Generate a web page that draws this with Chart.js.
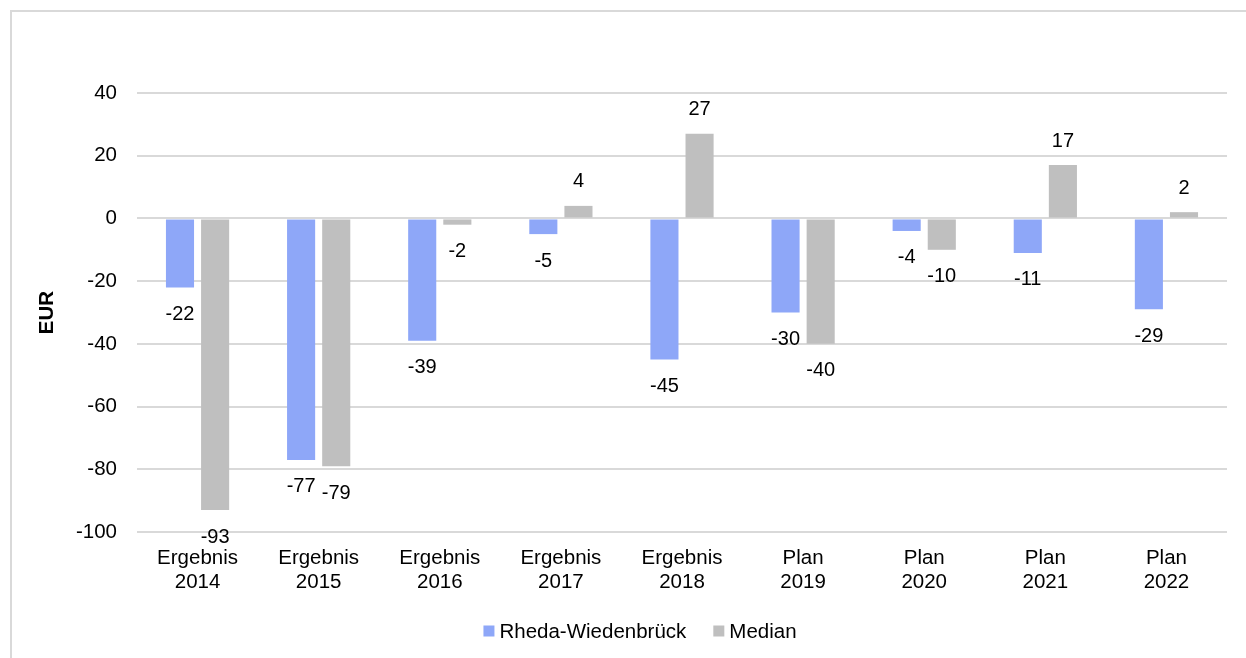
<!DOCTYPE html>
<html><head><meta charset="utf-8">
<script src="https://cdn.jsdelivr.net/npm/chart.js@4.4.1/dist/chart.umd.min.js"></script>
<style>
html,body{margin:0;padding:0;background:#fff;overflow:hidden;width:1246px;height:658px;}
#frame{position:absolute;left:10px;top:10px;width:1250px;height:660px;border:2px solid #d9d9d9;box-sizing:border-box;}
#wrap{position:absolute;left:0;top:0;width:1246px;height:658px;}
</style></head>
<body>
<div id="frame"></div>
<div id="wrap"><canvas id="c" width="1246" height="658"></canvas></div>
<script>
const categories = [["Ergebnis","2014"],["Ergebnis","2015"],["Ergebnis","2016"],["Ergebnis","2017"],["Ergebnis","2018"],["Plan","2019"],["Plan","2020"],["Plan","2021"],["Plan","2022"]];
const rhedaValues = [-22,-77,-39,-5,-45,-30,-4,-11,-29];
const medianValues = [-93,-79,-2,4,27,-40,-10,17,2];
const yTicks = [40,20,0,-20,-40,-60,-80,-100];
const FONT = "'Liberation Sans', Arial, sans-serif";
const FS = 20.5;

const labelPlugin = {
  id:'valueLabels',
  afterDatasetsDraw(chart){
    const ctx = chart.ctx;
    ctx.save();
    ctx.font = "20px " + FONT;
    ctx.fillStyle = "#000";
    ctx.textAlign = "center";
    ctx.textBaseline = "middle";
    chart.data.datasets.forEach((ds,i)=>{
      const meta = chart.getDatasetMeta(i);
      meta.data.forEach((bar,j)=>{
        const v = ds.data[j];
        const y = v < 0 ? bar.y + 27 : bar.y - 24;
        ctx.fillText(String(Math.round(v)), bar.x, y);
      });
    });
    ctx.restore();
  }
};

const legendPlugin = {
  id:'customLegend',
  afterDraw(chart){
    const ctx = chart.ctx;
    ctx.save();
    ctx.font = FS + "px " + FONT;
    ctx.textBaseline = "middle";
    ctx.textAlign = "left";
    const box = 11, gap = 5, spacing = 27;
    const items = chart.data.datasets.map(ds=>({label:ds.label,color:ds.backgroundColor,w:ctx.measureText(ds.label).width}));
    const total = items.reduce((s,it)=>s+box+gap+it.w,0) + spacing*(items.length-1);
    let x = 640 - total/2;
    const y = 631;
    items.forEach(it=>{
      ctx.fillStyle = it.color;
      ctx.fillRect(x, y - box/2, box, box);
      ctx.fillStyle = "#000";
      ctx.fillText(it.label, x + box + gap, y + 1);
      x += box + gap + it.w + spacing;
    });
    ctx.restore();
  }
};

new Chart(document.getElementById('c'),{
  type:'bar',
  data:{
    labels:categories,
    datasets:[
      {label:'Rheda-Wiedenbrück',data:rhedaValues,backgroundColor:'#8ea7f8',categoryPercentage:0.58,barPercentage:0.8},
      {label:'Median',data:medianValues,backgroundColor:'#bfbfbf',categoryPercentage:0.58,barPercentage:0.8}
    ]
  },
  options:{
    responsive:false,
    animation:false,
    devicePixelRatio:1,
    layout:{padding:{top:93,right:19,left:0,bottom:56}},
    plugins:{
      legend:{display:false},
      tooltip:{enabled:false}
    },
    scales:{
      x:{
        grid:{display:false},
        border:{display:false},
        ticks:{font:{family:FONT,size:FS,lineHeight:1.17},color:'#000',maxRotation:0,padding:6},
        afterFit(s){s.height=70;}
      },
      y:{
        min:-100,max:40,
        afterBuildTicks(s){s.ticks=yTicks.map(v=>({value:v}));},
        grid:{color:'#d9d9d9',lineWidth:2,drawTicks:false},
        border:{display:false},
        ticks:{font:{family:FONT,size:FS},color:'#000',padding:20},
        title:{display:true,text:'EUR',font:{family:FONT,size:FS,weight:'bold'},color:'#000',padding:{top:35,bottom:0}},
        afterFit(s){s.width=137;}
      }
    }
  },
  plugins:[labelPlugin, legendPlugin]
});
</script>
</body></html>
